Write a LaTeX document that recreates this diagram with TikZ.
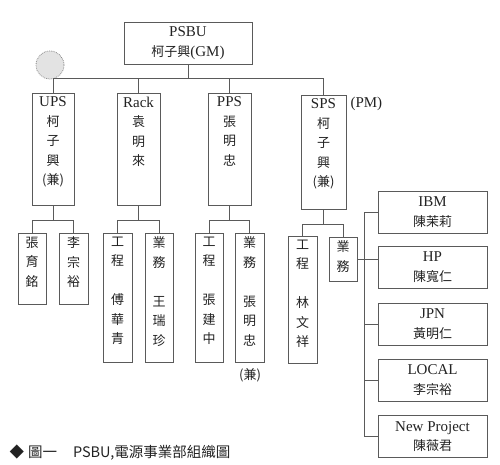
\documentclass[tikz,border=0pt]{standalone}
\usepackage{fontspec}
\setmainfont{Liberation Serif}
\newfontfamily\cjk{Noto Sans CJK TC}
\usepackage{tikz}
\definecolor{line}{HTML}{5A5A5A}
\definecolor{ink}{HTML}{222222}
\tikzset{
  box/.style={draw=line, line width=0.6pt, text=ink, inner sep=0pt, font=\fontsize{15}{19.5}\selectfont},
  org/.style={box, align=center, minimum width=#1, minimum height=42pt},
  link/.style={draw=line, line width=0.6pt},
  lab/.style={text=ink, font=\fontsize{15}{19.5}\selectfont},
  captxt/.style={text=ink, font=\cjk\fontsize{14.5}{16}\selectfont},
}
\newcommand\zh[1]{{\cjk\fontsize{13}{19.5}\selectfont #1}}
\newcommand\stk[3]{\parbox[c][#2pt][t]{#1pt}{\centering\vspace*{4pt}#3}}

\begin{document}
\begin{tikzpicture}[x=1pt,y=-1pt]
  \useasboundingbox (0,0) rectangle (500,465);

  % top
  \node[org=128pt] (gm) at (188,43) {PSBU\\\zh{柯子興}(GM)};
  \fill[gray!22] (50,65) circle (14);
  \draw[line!70, densely dotted, line width=0.8pt] (50,65) circle (14);

  % divisions
  \node[box] (ups)  at (53,149)    {\stk{42}{112}{UPS\\\zh{柯\\子\\興\\(兼)}}};
  \node[box] (rack) at (138.5,149) {\stk{43}{112}{Rack\\\zh{袁\\明\\來}}};
  \node[box] (pps)  at (229.5,149) {\stk{43}{112}{PPS\\\zh{張\\明\\忠}}};
  \node[box] (sps)  at (323.5,152) {\stk{45}{114}{SPS\\\zh{柯\\子\\興\\(兼)}}};
  \node[lab, anchor=west] (pm) at (347,104) {(PM)};

  \path (gm.south) ++(0,14) coordinate (gmbus);
  \draw[link] (gm.south) -- (gmbus);
  \draw[link] (ups.north) |- (gmbus) -| (sps.north);
  \foreach \n in {rack,pps}
    \draw[link] (\n.north) -- (\n.north |- gmbus);

  % sections
  \node[box] (upsa)  at (32,268.5)   {\stk{28}{71}{\zh{張\\育\\銘}}};
  \node[box] (upsb)  at (73.5,268.5) {\stk{29}{71}{\zh{李\\宗\\裕}}};
  \node[box] (racka) at (117.5,297.5) {\stk{29}{129}{\zh{工\\程\\[19.5pt]傅\\華\\青}}};
  \node[box] (rackb) at (159,297.5)   {\stk{28}{129}{\zh{業\\務\\[19.5pt]王\\瑞\\珍}}};
  \node[box] (ppsa)  at (209,297.5)   {\stk{28}{129}{\zh{工\\程\\[19.5pt]張\\建\\中}}};
  \node[box] (ppsb)  at (249.5,297.5) {\stk{29}{129}{\zh{業\\務\\[19.5pt]張\\明\\忠}}};
  \node[lab] (ppsj)  at (250,375)     {\zh{(兼)}};
  \node[box] (spsa)  at (302.5,299.5) {\stk{29}{127}{\zh{工\\程\\[19.5pt]林\\文\\祥}}};
  \node[box] (spsb)  at (343,259)     {\stk{28}{44}{\zh{業\\務}}};

  \foreach \p/\a/\b in {ups/upsa/upsb,rack/racka/rackb,pps/ppsa/ppsb,sps/spsa/spsb}{
    \path (\p.south) ++(0,15) coordinate (\p bus);
    \draw[link] (\p.south) -- (\p bus);
    \draw[link] (\a.north) |- (\p bus) -| (\b.north);
  }

  % sales regions
  \foreach \n/\y/\t/\s in {ibm/212/IBM/陳茉莉,hp/267/HP/陳寬仁,jpn/324/JPN/黃明仁,
                           local/380/LOCAL/李宗裕,newp/436.5/New Project/陳薇君}{
    \node[org=109pt] (\n) at (432.5,\y) {\t\\\zh{\s}};
  }
  \path (ibm.west) ++(-13,0) coordinate (spt);
  \path (newp.west) ++(-13,0) coordinate (spb);
  \draw[link] (ibm.west) -- (spt) -- (spb) -- (newp.west);
  \foreach \n in {jpn,local}
    \draw[link] (\n.west) -- (\n.west -| spt);
  \draw[link] (spsb.east) -- (spsb.east -| hp.west);

  % caption
  \node[captxt, anchor=west] (fig) at (6,453) {◆\hspace{4pt}圖一\hspace{16pt}PSBU,電源事業部組織圖};
\end{tikzpicture}
\end{document}
